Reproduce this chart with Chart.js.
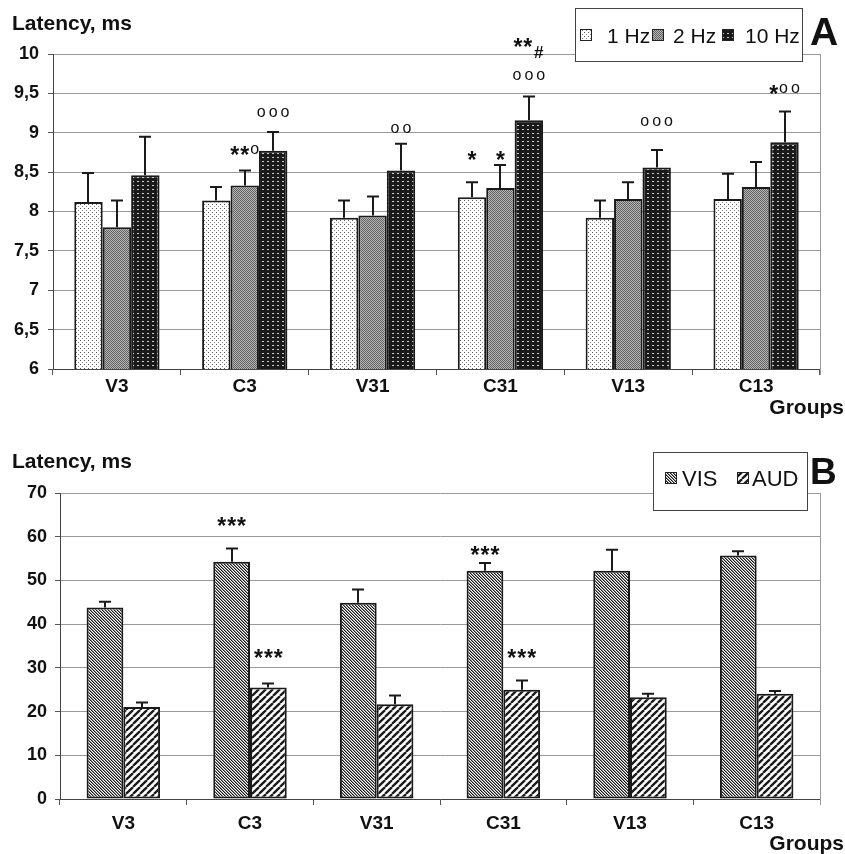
<!DOCTYPE html>
<html><head><meta charset="utf-8">
<script src="https://cdn.jsdelivr.net/npm/chart.js@4"></script>
<style>
html,body{margin:0;padding:0;background:#fff;}
#wrap{position:relative;width:845px;height:854px;overflow:hidden;background:#fff;}
canvas{position:absolute;left:0;}
#ca{top:0}
#cb{top:430px}
</style></head><body>
<div id="wrap"><canvas id="ca" width="845" height="430"></canvas><canvas id="cb" width="845" height="424"></canvas></div>
<script>
// ---------- DATA ----------
const groups = ['V3','C3','V31','C31','V13','C13'];
const freqLabels = ['1 Hz','2 Hz','10 Hz'];
const hz1     = [8.12, 8.14, 7.92, 8.18, 7.92, 8.16];
const hz1Err  = [0.37, 0.17, 0.22, 0.19, 0.22, 0.32];
const hz2     = [7.80, 8.33, 7.95, 8.30, 8.16, 8.31];
const hz2Err  = [0.34, 0.19, 0.24, 0.29, 0.21, 0.32];
const hz10    = [8.46, 8.77, 8.52, 9.16, 8.56, 8.88];
const hz10Err = [0.49, 0.24, 0.34, 0.30, 0.22, 0.39];
const axisA = {min: 6, max: 10, step: 0.5};

const modLabels = ['VIS','AUD'];
const vis    = [43.8, 54.3, 44.9, 52.2, 52.2, 55.7];
const visErr = [1.3, 3.0, 3.0, 1.8, 4.8, 1.0];
const aud    = [21.05, 25.5, 21.7, 25.0, 23.3, 24.1];
const audErr = [1.05, 0.95, 2.0, 2.1, 0.8, 0.6];
const axisB = {min: 0, max: 70, step: 10};

// significance marks: dataset index, group index, text, height (axis units)
const notesA = [
  {ds:1, i:1, text:'**o', at:8.78},
  {ds:2, i:1, text:'ooo', at:9.25},
  {ds:2, i:2, text:'oo',  at:9.05},
  {ds:0, i:3, text:'*',   at:8.72},
  {ds:1, i:3, text:'*',   at:8.72},
  {ds:2, i:3, text:'ooo', at:9.72},
  {ds:2, i:3, text:'**',  at:10.15, dx:-6},
  {ds:2, i:3, text:'#',   at:10.03, dx:10},
  {ds:2, i:4, text:'ooo', at:9.14},
  {ds:2, i:5, text:'*oo', at:9.56}
];
const notesB = [
  {ds:0, i:1, text:'***', at:63.5},
  {ds:1, i:1, text:'***', at:33.5},
  {ds:0, i:3, text:'***', at:57.0},
  {ds:1, i:3, text:'***', at:33.5}
];

// ---------- PATTERNS ----------
const FONT = '"Liberation Sans", Arial, sans-serif';
function tile(w,h,draw){const c=document.createElement('canvas');c.width=w;c.height=h;const g=c.getContext('2d');draw(g,w,h);return c;}
const pctx = document.createElement('canvas').getContext('2d');
function pat(c){return pctx.createPattern(c,'repeat');}
const pat1 = pat(tile(4,4,(g)=>{g.fillStyle='#fff';g.fillRect(0,0,4,4);g.fillStyle='#555';g.fillRect(0,0,1,1);g.fillStyle='#888';g.fillRect(2,2,1,1);}));
const pat2 = pat(tile(2,2,(g)=>{g.fillStyle='#b8b8b8';g.fillRect(0,0,2,2);g.fillStyle='#606060';g.fillRect(0,0,1,1);g.fillRect(1,1,1,1);}));
const pat10 = pat(tile(5,4,(g)=>{g.fillStyle='#1a1a1a';g.fillRect(0,0,5,4);g.fillStyle='#cfcfcf';g.fillRect(2,1,2,1);}));
const patVis = pat(tile(3,3,(g)=>{g.fillStyle='#fff';g.fillRect(0,0,3,3);for(let i=0;i<3;i++){g.fillStyle='#1a1a1a';g.fillRect(i,i,1,1);g.fillStyle='#8a8a8a';g.fillRect((i+1)%3,i,1,1);}}));
const patAud = pat(tile(7,7,(g)=>{g.fillStyle='#fff';g.fillRect(0,0,7,7);g.strokeStyle='#1a1a1a';g.lineWidth=2.3;for(const k of [-7,0,7]){g.beginPath();g.moveTo(k,7);g.lineTo(k+7,0);g.stroke();}}));

// ---------- PLUGINS ----------
function drawNote(ctx, text, cx, cy){
  const parts=[...text].map(ch=>{
    if(ch==='o') return {ch, font:'16px '+FONT, off:4.2, gap:3};
    if(ch==='#') return {ch, font:'bold 17px '+FONT, off:6, gap:1};
    return {ch, font:'bold 23px '+FONT, off:13, gap:1};
  });
  let total=0;
  parts.forEach((p,k)=>{ctx.font=p.font;p.w=ctx.measureText(p.ch).width;total+=p.w+(k<parts.length-1?p.gap:0);});
  let x=cx-total/2;
  ctx.fillStyle='#111';ctx.textAlign='left';ctx.textBaseline='alphabetic';
  parts.forEach(p=>{ctx.font=p.font;ctx.fillText(p.ch,x,cy+p.off);x+=p.w+p.gap;});
}

const decor = {
  id:'decor',
  afterDatasetsDraw(chart, args, o){
    const ctx=chart.ctx, y=chart.scales.y, a=chart.chartArea;
    ctx.save();
    // right frame line
    ctx.strokeStyle='#999';ctx.lineWidth=1;
    ctx.beginPath();ctx.moveTo(a.right+0.5,a.top);ctx.lineTo(a.right+0.5,a.bottom+6);ctx.stroke();
    // error bars
    ctx.strokeStyle='#1a1a1a';ctx.lineWidth=2;
    chart.data.datasets.forEach((ds,di)=>{
      chart.getDatasetMeta(di).data.forEach((bar,i)=>{
        const yt=y.getPixelForValue(ds.data[i]+ds.err[i]);
        const x=Math.round(bar.x);
        ctx.beginPath();ctx.moveTo(x,bar.y);ctx.lineTo(x,yt);
        ctx.moveTo(x-o.cap,yt);ctx.lineTo(x+o.cap,yt);ctx.stroke();
      });
    });
    // notes
    o.notes.forEach(n=>{
      const bar=chart.getDatasetMeta(n.ds).data[n.i];
      drawNote(ctx,n.text,bar.x+(n.dx||0),y.getPixelForValue(n.at));
    });
    // legend
    const L=o.legend;
    ctx.fillStyle='#fff';ctx.fillRect(L.x,L.y,L.w,L.h);
    ctx.strokeStyle='#444';ctx.lineWidth=1;ctx.strokeRect(L.x+0.5,L.y+0.5,L.w,L.h);
    chart.data.datasets.forEach((ds,di)=>{
      const sx=L.items[di][0], tx=L.items[di][1];
      ctx.fillStyle=ds.backgroundColor;ctx.fillRect(sx,L.sy,L.ss,L.ss);
      ctx.strokeStyle='#222';ctx.lineWidth=1;ctx.strokeRect(sx+0.5,L.sy+0.5,L.ss-1,L.ss-1);
      ctx.fillStyle='#111';ctx.font=L.font;ctx.textAlign='left';ctx.textBaseline='alphabetic';
      ctx.fillText(ds.label,tx,L.base);
    });
    // titles
    ctx.fillStyle='#111';ctx.textAlign='left';ctx.font='bold 21px '+FONT;
    ctx.fillText('Latency, ms',12,o.titleBase);
    ctx.font='bold '+o.letterSize+'px '+FONT;ctx.fillText(o.letter,o.letterX,o.letterBase);
    ctx.textAlign='right';ctx.font='bold 21px '+FONT;
    ctx.fillText('Groups',844,o.groupsBase);
    ctx.restore();
  }
};

function scales(ax, yw, xpad, ypad){
  return {
    x:{
      grid:{offset:true,drawOnChartArea:false,drawTicks:true,tickLength:6,tickColor:'#555'},
      border:{color:'#444',width:1},
      ticks:{font:{family:FONT,weight:'bold',size:19},color:'#111',padding:xpad},
      afterFit(s){s.height=40;}
    },
    y:{
      min:ax.min,max:ax.max,
      grid:{color:'#9a9a9a',lineWidth:1,drawTicks:true,tickLength:5,tickColor:'#555'},
      border:{color:'#444',width:1},
      ticks:{stepSize:ax.step,padding:ypad,color:'#111',font:{family:FONT,weight:'bold',size:18},
        callback:v=>String(v).replace('.',',')},
      afterFit(s){s.width=yw;}
    }
  };
}

const barStyle = {borderColor:'#1a1a1a',borderWidth:2,borderSkipped:false};

new Chart(document.getElementById('ca'),{
  type:'bar',
  data:{labels:groups,datasets:[
    Object.assign({label:freqLabels[0],data:hz1,err:hz1Err,backgroundColor:pat1},barStyle),
    Object.assign({label:freqLabels[1],data:hz2,err:hz2Err,backgroundColor:pat2},barStyle),
    Object.assign({label:freqLabels[2],data:hz10,err:hz10Err,backgroundColor:pat10},barStyle)
  ]},
  options:{
    responsive:false,animation:false,devicePixelRatio:1,
    categoryPercentage:0.667,barPercentage:1.0,
    layout:{padding:{left:0,right:25,top:54,bottom:21}},
    scales:scales(axisA,53,0,9),
    plugins:{legend:{display:false},tooltip:{enabled:false},
      decor:{cap:6,notes:notesA,titleBase:30,letter:'A',letterSize:39,letterX:810,letterBase:45,groupsBase:414,
        legend:{x:575,y:8,w:227,h:53,sy:29,ss:12,base:43,font:'21px '+FONT,items:[[580,607],[652,673],[722,745]]}}}
  },
  plugins:[decor]
});

new Chart(document.getElementById('cb'),{
  type:'bar',
  data:{labels:groups,datasets:[
    Object.assign({label:modLabels[0],data:vis,err:visErr,backgroundColor:patVis},barStyle),
    Object.assign({label:modLabels[1],data:aud,err:audErr,backgroundColor:patAud},barStyle)
  ]},
  options:{
    responsive:false,animation:false,devicePixelRatio:1,
    categoryPercentage:0.58,barPercentage:1.0,
    layout:{padding:{left:0,right:25,top:63,bottom:15}},
    scales:scales(axisB,60,7,8),
    plugins:{legend:{display:false},tooltip:{enabled:false},
      decor:{cap:6,notes:notesB,titleBase:38,letter:'B',letterSize:37,letterX:810,letterBase:54,groupsBase:420,
        legend:{x:653,y:22,w:154,h:58,sy:42,ss:12,base:56,font:'22px '+FONT,items:[[665,682],[737,752]]}}}
  },
  plugins:[decor]
});
</script>
</body></html>
